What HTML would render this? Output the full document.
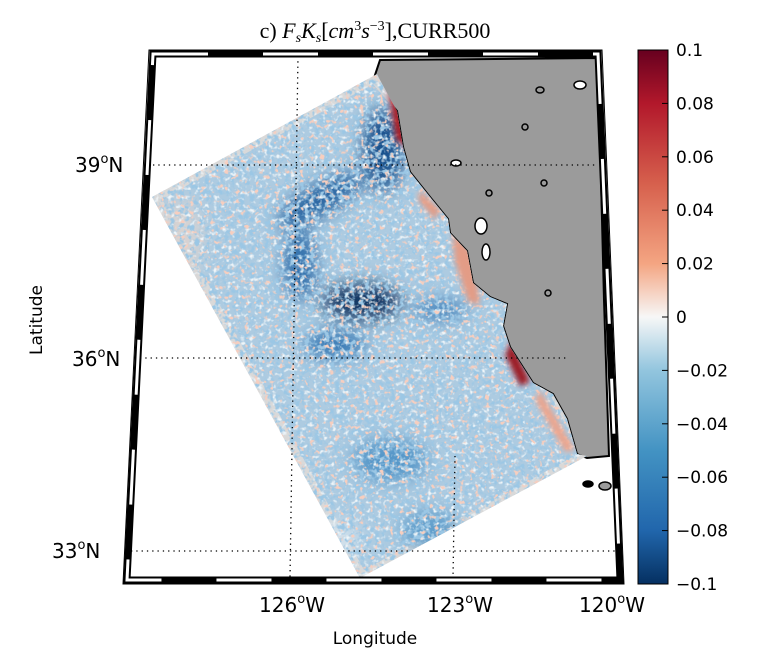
<!DOCTYPE html>
<html><head><meta charset="utf-8"><style>
html,body{margin:0;padding:0;background:#fff;width:760px;height:666px;overflow:hidden}
text{font-family:"DejaVu Sans","Liberation Sans",sans-serif}
</style></head><body>
<svg width="760" height="666" viewBox="0 0 760 666">
<defs>
<linearGradient id="cb" x1="0" y1="0" x2="0" y2="1">
<stop offset="0" stop-color="#67001f"/><stop offset="0.1" stop-color="#b2182b"/><stop offset="0.25" stop-color="#d6604d"/>
<stop offset="0.4" stop-color="#f4a582"/><stop offset="0.5" stop-color="#f7f7f7"/><stop offset="0.6" stop-color="#92c5de"/>
<stop offset="0.75" stop-color="#4393c3"/><stop offset="0.9" stop-color="#2166ac"/><stop offset="1" stop-color="#053061"/>
</linearGradient>
<clipPath id="dclip"><polygon points="377,74 152,197 360,578 587,456 577,454 567,419 553,394 533,383 510,347 503,326 507,304 490,297 473,283 467,251 450,233 448,219 430,197 410,172 403,147 397,111 380,80"/></clipPath>
<filter id="noiseB" x="0" y="0" width="100%" height="100%">
<feTurbulence type="fractalNoise" baseFrequency="0.2" numOctaves="2" seed="4"/>
<feColorMatrix type="matrix" values="0 0 0 0 0.33  0 0 0 0 0.57  0 0 0 0 0.78  5 0 0 0 -2.3"/>
</filter>
<filter id="noiseW" x="0" y="0" width="100%" height="100%">
<feTurbulence type="fractalNoise" baseFrequency="0.22" numOctaves="2" seed="11"/>
<feColorMatrix type="matrix" values="0 0 0 0 0.86  0 0 0 0 0.91  0 0 0 0 0.94  4 0 0 0 -2.2"/>
</filter>
<filter id="noiseR" x="0" y="0" width="100%" height="100%">
<feTurbulence type="fractalNoise" baseFrequency="0.2" numOctaves="2" seed="23"/>
<feColorMatrix type="matrix" values="0 0 0 0 0.93  0 0 0 0 0.62  0 0 0 0 0.52  7 0 0 0 -4.3"/>
</filter>
<filter id="blur8" x="-50%" y="-50%" width="200%" height="200%"><feGaussianBlur stdDeviation="9"/></filter>
<filter id="blur4" x="-50%" y="-50%" width="200%" height="200%"><feGaussianBlur stdDeviation="3"/></filter>
</defs>
<text x="375" y="38" text-anchor="middle" font-size="22" style="font-family:'Liberation Serif',serif">c) <tspan font-style="italic">F<tspan font-size="14" dy="4">s</tspan><tspan dy="-4">K</tspan><tspan font-size="14" dy="4">s</tspan></tspan><tspan dy="-4">[</tspan><tspan font-style="italic">cm</tspan><tspan font-size="14" dy="-8">3</tspan><tspan font-style="italic" dy="8">s</tspan><tspan font-size="14" dy="-8">−3</tspan><tspan dy="8">],CURR500</tspan></text>

<g>
<polygon points="153,54 598,54 620,580 127,580" fill="#fff"/>
<polygon points="380,60 598,58 604,300 609,456 587,458 577,454 567,419 553,394 533,383 510,347 503,326 507,304 490,297 473,283 467,251 450,233 448,219 430,197 410,172 403,147 397,111 373,81" fill="#9b9b9b" stroke="#000" stroke-width="2"/>
<g fill="#fff" stroke="#000" stroke-width="1.5">
<ellipse cx="456" cy="163" rx="5" ry="3"/><ellipse cx="481" cy="226" rx="6" ry="8"/><ellipse cx="486" cy="252" rx="4" ry="8"/>
<ellipse cx="540" cy="90" rx="4" ry="3" fill="#9b9b9b"/><ellipse cx="580" cy="85" rx="6" ry="4"/><ellipse cx="525" cy="127" rx="3" ry="3" fill="#9b9b9b"/>
<ellipse cx="548" cy="293" rx="3" ry="3" fill="#9b9b9b"/><ellipse cx="605" cy="486" rx="6" ry="4" fill="#9b9b9b"/><ellipse cx="588" cy="484" rx="5" ry="3" fill="#000"/>
<ellipse cx="544" cy="183" rx="3" ry="3" fill="#9b9b9b"/><ellipse cx="489" cy="193" rx="3" ry="3" fill="#9b9b9b"/>
</g>
<polygon points="377,74 152,197 360,578 587,456 577,454 567,419 553,394 533,383 510,347 503,326 507,304 490,297 473,283 467,251 450,233 448,219 430,197 410,172 403,147 397,111 380,80" fill="#d9d9d9"/>
<g clip-path="url(#dclip)">
<polygon points="373,84 162,199 364,570 580,453 420,140" fill="#adcbe1"/>
<g filter="url(#blur8)">
<ellipse cx="362" cy="302" rx="40" ry="18" fill="#08305f"/>
<ellipse cx="383" cy="150" rx="20" ry="42" fill="#174f8c"/>
<ellipse cx="320" cy="200" rx="48" ry="15" fill="#22619f" transform="rotate(-30 320 200)"/>
<ellipse cx="300" cy="265" rx="16" ry="36" fill="#2a6aa8"/>
<ellipse cx="335" cy="345" rx="32" ry="14" fill="#3276b3"/>
<ellipse cx="440" cy="310" rx="28" ry="10" fill="#3a7db8"/>
<ellipse cx="390" cy="460" rx="38" ry="22" fill="#5596c8"/>
<ellipse cx="430" cy="530" rx="30" ry="20" fill="#5f9dcb"/>
<ellipse cx="180" cy="240" rx="22" ry="40" fill="#d8d3d2"/>
<ellipse cx="330" cy="540" rx="30" ry="20" fill="#cfe0ec"/>
</g>
<rect x="150" y="70" width="440" height="510" filter="url(#noiseB)"/>
<rect x="150" y="70" width="440" height="510" filter="url(#noiseW)"/>
<rect x="150" y="70" width="440" height="510" filter="url(#noiseR)"/>
<g filter="url(#blur4)">
<polygon points="388,88 408,118 410,150 396,140" fill="#a61a28"/>
<polygon points="512,340 530,382 520,386 505,355" fill="#9b1a28"/>
<polygon points="452,232 473,252 480,305 468,302 455,262" fill="#e39c86"/>
<polygon points="540,390 575,450 565,452 535,400" fill="#eba58e"/>
<polygon points="420,190 440,210 435,220 418,200" fill="#e39c86"/>
</g>
</g>
<g stroke="#000" stroke-width="1.3" stroke-dasharray="1.3,4" fill="none">
<line x1="153" y1="165" x2="598" y2="165"/><line x1="140" y1="358" x2="566" y2="358"/><line x1="131" y1="551" x2="618" y2="551"/>
<line x1="298" y1="56" x2="290" y2="578"/><line x1="455" y1="456" x2="453" y2="578"/>
</g>
<g fill="none">
<polygon points="153,54 598,54 620,580 127,580" stroke="#000" stroke-width="7"/>
<polygon points="153,54 598,54 620,580 127,580" stroke="#fff" stroke-width="3" stroke-dasharray="55,55"/>
<polygon points="149,50 602,50 624,584 123,584" stroke="#000" stroke-width="1"/>
</g>
</g>
<g font-size="20">
<text x="75" y="172">39<tspan font-size="13" dy="-9">o</tspan><tspan dy="9">N</tspan></text>
<text x="72" y="366">36<tspan font-size="13" dy="-9">o</tspan><tspan dy="9">N</tspan></text>
<text x="52" y="558">33<tspan font-size="13" dy="-9">o</tspan><tspan dy="9">N</tspan></text>
</g>
<g font-size="20" text-anchor="middle">
<text x="292" y="612">126<tspan font-size="13" dy="-9">o</tspan><tspan dy="9">W</tspan></text>
<text x="460" y="612">123<tspan font-size="13" dy="-9">o</tspan><tspan dy="9">W</tspan></text>
<text x="612" y="612">120<tspan font-size="13" dy="-9">o</tspan><tspan dy="9">W</tspan></text>
</g>
<text x="375" y="644" text-anchor="middle" font-size="17">Longitude</text>
<text x="42" y="320" text-anchor="middle" font-size="17" transform="rotate(-90 42 320)">Latitude</text>
<g>
<rect x="638" y="50" width="30" height="534" fill="url(#cb)" stroke="#000" stroke-width="1"/>
<g id="cbt" font-size="17"></g>
</g>
</svg>
<script>
const cbTicks=[0.1,0.08,0.06,0.04,0.02,0,-0.02,-0.04,-0.06,-0.08,-0.1];
const cbLabels=["0.1","0.08","0.06","0.04","0.02","0","\u22120.02","\u22120.04","\u22120.06","\u22120.08","\u22120.1"];
const vmin=-0.1,vmax=0.1,y0=584,y1=50;
function cy(v){return y0-(v-vmin)/(vmax-vmin)*(y0-y1);}
const g=document.getElementById('cbt');
cbTicks.forEach((v,i)=>{
 const t=document.createElementNS('http://www.w3.org/2000/svg','text');
 t.setAttribute('x',676);t.setAttribute('y',cy(v)+6);t.textContent=cbLabels[i];
 
 
 g.appendChild(t);
 const l=document.createElementNS('http://www.w3.org/2000/svg','line');
 l.setAttribute('x1',662);l.setAttribute('x2',668);l.setAttribute('y1',cy(v));l.setAttribute('y2',cy(v));l.setAttribute('stroke','#000');
 
 
 g.appendChild(l);
});
</script>
</body></html>
